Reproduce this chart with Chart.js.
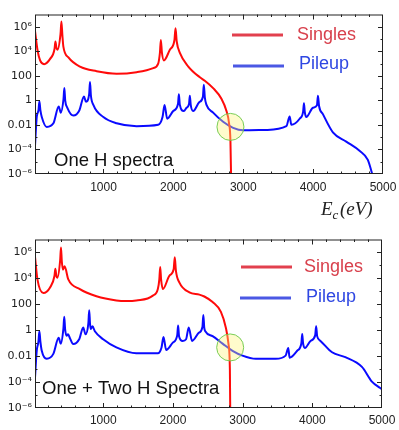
<!DOCTYPE html>
<html>
<head>
<meta charset="utf-8">
<script src="https://cdn.jsdelivr.net/npm/chart.js"></script>
<style>
  html, body { margin: 0; padding: 0; background: #fff; }
  #wrap { position: relative; width: 399px; height: 430px; }
  canvas { position: absolute; left: 0; }
  #topChart { top: 0; }
  #bottomChart { top: 225px; }
</style>
</head>
<body>
<div id="wrap">
  <canvas id="topChart" width="399" height="225" style="width:399px;height:225px"></canvas>
  <canvas id="bottomChart" width="399" height="205" style="width:399px;height:205px"></canvas>
</div>
<script>
const seriesNames = ["Singles", "Pileup"];
const panelTitles = ["One H spectra", "One + Two H Spectra"];
const xTicks = [1000, 2000, 3000, 4000, 5000];
const yTicks = [1e-6, 1e-4, 1e-2, 1, 100, 1e4, 1e6];
const yTickLabels = ["10⁻⁶", "10⁻⁴", "0.01", "1", "100", "10⁴", "10⁶"];

// top panel: one H
const topSinglesE = [21, 55, 93, 150, 236, 300, 312, 326, 341, 385, 398, 412, 426, 498, 664, 902, 1188, 1474, 1712,
  1783, 1808, 1821, 1836, 1864, 1950, 2015, 2031, 2048, 2093, 2211, 2379, 2450, 2569, 2688, 2760, 2797, 2817, 2828];
const topSingles = [4.3e5, 1.35e4, 1800, 900, 2400, 1.6e4, 6.3e4, 2e4, 1.35e4, 2.5e5, 2.7e6, 2e5, 2.4e4, 3200, 560, 240, 150, 200, 430,
  1000, 8000, 8.5e4, 8000, 1800, 1.35e4, 8e4, 7.4e5, 6.3e4, 7600, 600, 76, 40, 10, 1.35, 0.135, 0.0135, 4.4e-4, 1e-7];
const topPileupE = [21, 45, 70, 83, 97, 117, 188, 283, 360, 389, 428, 440, 452, 483, 569, 654, 721, 750, 795, 807, 820,
  855, 998, 1188, 1474, 1783, 1845, 1874, 1912, 1998, 2066, 2079, 2092, 2150, 2188, 2224, 2236, 2248, 2283, 2370,
  2423, 2436, 2450, 2474, 2569, 2712, 2855, 2998, 3331, 3617, 3664, 3688, 3807, 3857, 3869, 3881, 3902, 3998, 4055, 4069,
  4085, 4140, 4283, 4474, 4664, 4783, 4860];
const topPileup = [2.5e-4, 0.045, 0.16, 0.85, 0.16, 0.045, 0.0069, 0.0135, 0.32, 0.1, 1.3, 10, 1.0, 0.25, 0.058, 0.15, 2.1, 0.76, 3.2, 32, 2.5,
  0.43, 0.044, 0.0135, 0.0078, 0.0102, 0.044, 0.43, 0.032, 0.135, 0.5, 3.2, 0.45, 0.135, 0.25, 0.5, 2.4, 0.45, 0.135, 0.71,
  2.0, 19, 1.8, 0.43, 0.1, 0.018, 0.0058, 0.0036, 0.0039, 0.0078, 0.049, 0.0102, 0.032, 0.12, 0.58, 0.11, 0.044, 0.25, 0.4, 2.4,
  0.35, 0.076, 0.0025, 4.4e-4, 7.8e-5, 1.4e-5, 5e-7];

// bottom panel: one + two H
const botSinglesE = [21, 55, 140, 236, 300, 312, 326, 341, 381, 393, 405, 421, 445, 498, 664, 902, 1188, 1331, 1474,
  1712, 1783, 1804, 1817, 1830, 1855, 1950, 2010, 2026, 2042, 2093, 2236, 2379, 2450, 2569, 2688, 2760, 2797, 2817, 2823];
const botSingles = [4.2e5, 8300, 740, 2000, 1.6e4, 5.6e4, 1.6e4, 1.1e4, 2.5e5, 2.4e6, 2e5, 4.7e4, 8.5e4, 8300, 1500, 420, 200, 180, 200,
  470, 1500, 8000, 7.4e4, 8000, 1500, 1.66e4, 5e4, 4.2e5, 4e4, 4700, 830, 560, 400, 150, 26, 1.5, 0.085, 8.3e-4, 1e-7];
const botPileupE = [21, 45, 70, 83, 97, 117, 188, 283, 360, 389, 428, 440, 452, 474, 495, 520, 569, 654, 712,
  745, 786, 798, 810, 821, 845, 879, 998, 1188, 1474, 1783, 1836, 1864, 1902, 1998, 2061, 2074, 2087, 2140,
  2188, 2226, 2274, 2370, 2423, 2436, 2449, 2464, 2569, 2712, 2855, 2998, 3188, 3474, 3617, 3655, 3674,
  3783, 3843, 3855, 3867, 3893, 3974, 4041, 4055, 4069, 4117, 4283, 4474, 4712, 4855, 4974, 5000];
const botPileup = [2.6e-4, 0.026, 0.14, 0.83, 0.14, 0.026, 0.0063, 0.015, 0.26, 0.093, 1.4, 11, 1.2, 0.38, 0.5, 0.25, 0.085, 0.2, 1.66,
  0.48, 3.5, 35, 3.0, 1.26, 2.0, 0.83, 0.2, 0.047, 0.0166, 0.0166, 0.047, 0.3, 0.03, 0.11, 0.4, 2.3, 0.35, 0.15,
  0.2, 1.66, 0.15, 0.63, 1.8, 15, 1.6, 0.83, 0.35, 0.093, 0.026, 0.011, 0.0063, 0.0063, 0.011, 0.043, 0.0076,
  0.026, 0.1, 0.52, 0.1, 0.043, 0.15, 0.4, 2.0, 0.35, 0.15, 0.02, 0.0083, 0.0015, 1.1e-4, 3.5e-5, 2.8e-5];

// crossing markers (green circles)
const crossE = [2817, 2821];
const crossY = [0.0069, 0.047];

const red = "#ff0a0a";
const blue = "#0a0aff";
const legendLine = ["#e2404e", "#4b58e4"];
const legendText = ["#d8404c", "#2f47e2"];
const tickFont = "'Liberation Sans', Arial, sans-serif";

const panelPlugin = {
  id: "panel",
  afterDraw(chart, args, p) {
    const { ctx, chartArea: a } = chart;
    const x = chart.scales.x, y = chart.scales.y;
    ctx.save();
    ctx.strokeStyle = "#222";
    ctx.lineWidth = 1;
    ctx.strokeRect(a.left + 0.5, a.top + 0.5, a.right - a.left - 1, a.bottom - a.top - 1);
    ctx.beginPath();
    for (let v = 200; v < 5000; v += 200) {
      const px = Math.round(x.getPixelForValue(v)) + 0.5;
      const len = v % 1000 === 0 ? 5 : 2.5;
      ctx.moveTo(px, a.bottom); ctx.lineTo(px, a.bottom - len);
      ctx.moveTo(px, a.top); ctx.lineTo(px, a.top + len);
    }
    for (let e = -5; e <= 6; e++) {
      const py = Math.round(y.getPixelForValue(Math.pow(10, e))) + 0.5;
      const len = e % 2 === 0 ? 5 : 2.5;
      ctx.moveTo(a.left, py); ctx.lineTo(a.left + len, py);
      ctx.moveTo(a.right, py); ctx.lineTo(a.right - len, py);
    }
    ctx.stroke();

    // legend
    p.legend.forEach((l, i) => {
      ctx.strokeStyle = legendLine[i];
      ctx.lineWidth = 3;
      ctx.beginPath();
      ctx.moveTo(l.x0, l.y); ctx.lineTo(l.x1, l.y);
      ctx.stroke();
      ctx.fillStyle = legendText[i];
      ctx.font = "18px " + tickFont;
      ctx.textBaseline = "middle";
      ctx.textAlign = "left";
      ctx.fillText(seriesNames[i], l.tx, l.ty);
    });

    // panel title
    ctx.fillStyle = "#111";
    ctx.font = "18.5px " + tickFont;
    ctx.textBaseline = "alphabetic";
    ctx.fillText(panelTitles[p.index], p.titleX, p.titleY);

    // axis label E_c(eV)
    if (p.axisLabel) {
      let cx = 321;
      const base = 215;
      ctx.fillStyle = "#222";
      ctx.font = "italic 19px 'Liberation Serif', 'DejaVu Serif', serif";
      ctx.fillText("E", cx, base);
      cx += ctx.measureText("E").width;
      ctx.font = "italic 13px 'Liberation Serif', 'DejaVu Serif', serif";
      ctx.fillText("c", cx, base + 4);
      cx += ctx.measureText("c").width + 1.5;
      ctx.font = "italic 19px 'Liberation Serif', 'DejaVu Serif', serif";
      ctx.fillText("(eV)", cx, base);
    }
    ctx.restore();
  },
};

function pts(E, Y) {
  return E.map((x, i) => ({ x: x, y: Y[i] }));
}

function makeChart(id, p, singlesE, singles, pileupE, pileup) {
  return new Chart(document.getElementById(id), {
    type: "line",
    data: {
      datasets: [
        {
          label: "crossing",
          data: [{ x: crossE[p.index], y: crossY[p.index] }],
          showLine: false,
          pointRadius: 13.5,
          pointHoverRadius: 13.5,
          pointBackgroundColor: "rgba(255, 244, 120, 0.38)",
          pointBorderColor: "rgba(105, 200, 70, 0.9)",
          pointBorderWidth: 1,
          order: 0,
        },
        {
          label: seriesNames[0],
          data: pts(singlesE, singles),
          borderColor: red,
          borderWidth: 2,
          pointRadius: 0,
          cubicInterpolationMode: "monotone",
          order: 1,
        },
        {
          label: seriesNames[1],
          data: pts(pileupE, pileup),
          borderColor: blue,
          borderWidth: 2,
          pointRadius: 0,
          cubicInterpolationMode: "monotone",
          order: 2,
        },
      ],
    },
    options: {
      responsive: false,
      animation: false,
      devicePixelRatio: 1,
      events: [],
      layout: { padding: { top: p.padTop, right: p.padRight, left: 0, bottom: 0 } },
      plugins: { legend: { display: false }, tooltip: { enabled: false }, panel: p },
      scales: {
        x: {
          type: "linear",
          min: 20,
          max: 5000,
          grid: { display: false, drawTicks: false },
          border: { display: false },
          ticks: {
            autoSkip: false,
            maxRotation: 0,
            padding: p.xPad,
            color: "#222",
            font: { family: tickFont, size: 12 },
            callback: (v) => String(v),
          },
          afterBuildTicks: (s) => { s.ticks = xTicks.map((v) => ({ value: v })); },
          afterFit: (s) => { s.height = p.xHeight; s.paddingLeft = 0; s.paddingRight = 0; },
        },
        y: {
          type: "logarithmic",
          min: 1e-6,
          max: 1e7,
          grid: { display: false, drawTicks: false },
          border: { display: false },
          ticks: {
            autoSkip: false,
            padding: 3,
            color: "#222",
            font: { family: "'DejaVu Sans', sans-serif", size: 11 },
            callback: (v, i) => yTickLabels[i],
          },
          afterBuildTicks: (s) => { s.ticks = yTicks.map((v) => ({ value: v })); },
          afterFit: (s) => { s.width = 35; s.paddingTop = 0; s.paddingBottom = 0; },
        },
      },
    },
    plugins: [panelPlugin],
  });
}

makeChart("topChart", {
  index: 0, padTop: 2, padRight: 16, xHeight: 51, xPad: 6,
  titleX: 54, titleY: 166, axisLabel: true,
  legend: [
    { x0: 232, x1: 283, y: 35, tx: 297, ty: 35 },
    { x0: 233, x1: 284, y: 66, tx: 299, ty: 64 },
  ],
}, topSinglesE, topSingles, topPileupE, topPileup);

makeChart("bottomChart", {
  index: 1, padTop: 10, padRight: 17, xHeight: 22, xPad: 5,
  titleX: 42, titleY: 169, axisLabel: false,
  legend: [
    { x0: 241, x1: 292, y: 42, tx: 304, ty: 42 },
    { x0: 240, x1: 291, y: 73, tx: 306, ty: 72 },
  ],
}, botSinglesE, botSingles, botPileupE, botPileup);
</script>
</body>
</html>
